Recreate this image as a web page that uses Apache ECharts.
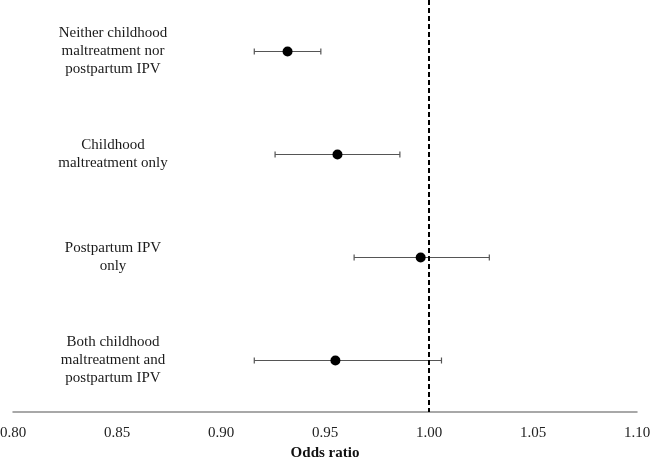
<!DOCTYPE html>
<html>
<head>
<meta charset="utf-8">
<script src="https://cdn.jsdelivr.net/npm/echarts@6/dist/echarts.min.js"></script>
<style>
  html, body { margin: 0; padding: 0; background: #fff; }
  #chart { width: 650px; height: 458px; }
</style>
</head>
<body>
<div id="chart"></div>
<script>
const groups = [
  'Neither childhood\nmaltreatment nor\npostpartum IPV',
  'Childhood\nmaltreatment only',
  'Postpartum IPV\nonly',
  'Both childhood\nmaltreatment and\npostpartum IPV'
]
const oddsRatio = [0.932, 0.956, 0.996, 0.955]
const ciLow = [0.916, 0.926, 0.964, 0.916]
const ciHigh = [0.948, 0.986, 1.029, 1.006]
const xTicks = [0.80, 0.85, 0.90, 0.95, 1.00, 1.05, 1.10]

const serif = '"Liberation Serif", "Times New Roman", serif'
const myChart = echarts.init(document.getElementById('chart'))

const barData = groups.map((g, i) => [ciLow[i], ciHigh[i], i])
const pointData = groups.map((g, i) => [oddsRatio[i], i])

const option = {
  animation: false,
  grid: { left: 13, right: 13, top: 0, bottom: 46, outerBoundsMode: 'none', containLabel: false },
  xAxis: {
    type: 'value',
    min: xTicks[0],
    max: xTicks[xTicks.length - 1],
    interval: 0.05,
    name: 'Odds ratio',
    nameLocation: 'middle',
    nameGap: 32,
    nameTextStyle: { fontFamily: serif, fontSize: 15, fontWeight: 'bold', color: '#111' },
    axisLine: { show: true, lineStyle: { color: '#8c8c8c', width: 1.5 } },
    axisTick: { show: false },
    splitLine: { show: false },
    axisLabel: {
      margin: 14,
      fontFamily: serif,
      fontSize: 15,
      color: '#222',
      formatter: v => v.toFixed(2)
    }
  },
  yAxis: {
    type: 'category',
    data: groups,
    inverse: true,
    axisLine: { show: false },
    axisTick: { show: false },
    splitLine: { show: false },
    axisLabel: {
      inside: true,
      align: 'center',
      margin: 100,
      fontFamily: serif,
      fontSize: 15,
      lineHeight: 18,
      color: '#1a1a1a'
    }
  },
  series: [
    {
      type: 'custom',
      data: barData,
      z: 2,
      renderItem: (params, api) => {
        const lo = api.coord([api.value(0), api.value(2)])
        const hi = api.coord([api.value(1), api.value(2)])
        const cap = 3
        const style = { stroke: '#555', lineWidth: 1.2 }
        return {
          type: 'group',
          children: [
            { type: 'line', shape: { x1: lo[0], y1: lo[1], x2: hi[0], y2: hi[1] }, style },
            { type: 'line', shape: { x1: lo[0], y1: lo[1] - cap, x2: lo[0], y2: lo[1] + cap }, style },
            { type: 'line', shape: { x1: hi[0], y1: hi[1] - cap, x2: hi[0], y2: hi[1] + cap }, style }
          ]
        }
      }
    },
    {
      type: 'scatter',
      data: pointData,
      symbol: 'circle',
      symbolSize: 10,
      z: 3,
      itemStyle: { color: '#000', opacity: 1 },
      markLine: {
        silent: true,
        symbol: 'none',
        label: { show: false },
        lineStyle: { color: '#000', type: [5, 3], width: 2, opacity: 1 },
        data: [{ xAxis: 1.0 }]
      }
    }
  ]
}
myChart.setOption(option)
</script>
</body>
</html>
